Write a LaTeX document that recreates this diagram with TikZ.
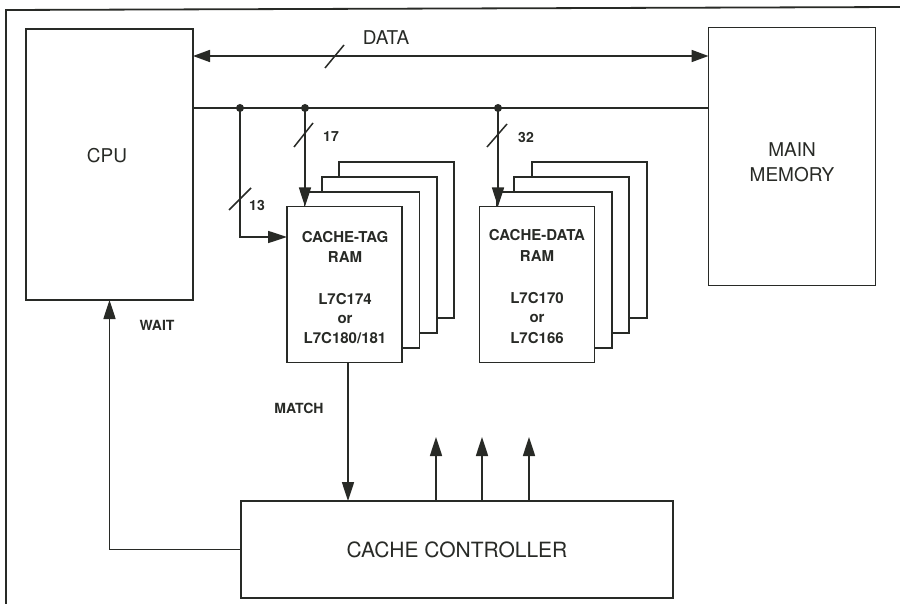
\documentclass[tikz,border=0pt]{standalone}
\usepackage{fontspec}
\setmainfont{TeX Gyre Heros}
\usetikzlibrary{arrows.meta}
\definecolor{ink}{RGB}{40,42,38}
\tikzset{
  box/.style={draw=ink, line width=1.8pt, fill=white, rectangle, inner sep=0pt, outer sep=0pt, text=ink, align=center},
  ram/.style={box, minimum width=115pt, minimum height=156pt},
  wire/.style={draw=ink, line width=1.7pt},
  arr/.style={wire, -{Triangle[length=19pt,width=12pt]}},
  darr/.style={wire, {Triangle[length=17pt,width=12pt]}-{Triangle[length=17pt,width=12pt]}},
  slash/.style={draw=ink, line width=1.5pt},
  dot/.style={circle, fill=ink, inner sep=0pt, minimum size=8pt},
  lbl/.style={text=ink, font=\fontsize{14}{16}\selectfont\bfseries, inner sep=0pt},
  ramtxt/.style={text=ink, font=\fontsize{15}{20}\selectfont\bfseries, align=center, inner sep=0pt}
}
\begin{document}
\begin{tikzpicture}[x=1pt,y=-1pt]
\useasboundingbox[fill=white] (0,0) rectangle (900,604);
% frame
\coordinate (f1) at (6,10);
\coordinate (f2) at (900,7);
\coordinate (f3) at (6,604);
\draw[ink, line width=1.8pt] (f3) -- (f1) -- (f2);
% CPU & memory
\node[box, minimum width=167pt, minimum height=271pt] (cpu) at (109.5,164.5) {};
\node[text=ink, font=\fontsize{19}{22}\selectfont, inner sep=0pt] (cpul) at (107,156) {CPU};
\node[box, minimum width=167pt, minimum height=258pt] (mem) at (792,156.5) {};
\node[text=ink, font=\fontsize{19}{25}\selectfont, align=center, inner sep=0pt] (meml) at (792,162) {MAIN\\MEMORY};
% data bus
\coordinate (dy) at (0,56);
\draw[darr] (cpu.east |- dy) -- (mem.west |- dy);
\coordinate (ds1) at (325,68);
\coordinate (ds2) at (344,45);
\draw[slash] (ds1) -- (ds2);
\node[text=ink, font=\fontsize{19}{22}\selectfont, inner sep=0pt] (datal) at (386,38) {DATA};
% address bus
\coordinate (ay) at (0,108);
\draw[wire] (cpu.east |- ay) -- (mem.west |- ay);
\node[dot] (d1) at (240,108) {};
\node[dot] (d2) at (305,108) {};
\node[dot] (d3) at (498,108) {};
% tag RAM stack
\node[ram] (t4) at (396.7,239.7) {};
\node[ram] (t3) at (379.3,254.7) {};
\node[ram] (t2) at (361.9,269.7) {};
\node[ram] (tag) at (344.5,284.5) {};
\node[ramtxt] (tagl1) at (345,237) {CACHE-TAG};
\node[ramtxt] (tagl2) at (345,257) {RAM};
\node[ramtxt] (tagl3) at (345,299) {L7C174};
\node[ramtxt] (tagl4) at (345,319) {or};
\node[ramtxt] (tagl5) at (345,338) {L7C180/181};
% data RAM stack
\node[ram] (r4) at (589.2,239.7) {};
\node[ram] (r3) at (571.8,254.7) {};
\node[ram] (r2) at (554.4,269.7) {};
\node[ram] (dram) at (537,284.5) {};
\node[ramtxt] (dl1) at (537,235) {CACHE-DATA};
\node[ramtxt] (dl2) at (537,256) {RAM};
\node[ramtxt] (dl3) at (537,298) {L7C170};
\node[ramtxt] (dl4) at (537,318) {or};
\node[ramtxt] (dl5) at (537,338) {L7C166};
% address taps
\draw[arr] (d2.center) -- (d2 |- tag.north);
\draw[slash] (294,147) -- (313,123);
\node[lbl] (l17) at (331,137) {17};
\coordinate (in13) at (tag.west |- 0,237);
\draw[arr] (d1.center) |- (in13);
\draw[slash] (229,210) -- (251,188);
\node[lbl] (l13) at (257,205) {13};
\draw[arr] (d3.center) -- (d3 |- dram.north);
\draw[slash] (487,147) -- (507,124);
\node[lbl] (l32) at (526,137) {32};
% controller
\node[box, minimum width=432pt, minimum height=97pt, font=\fontsize{21}{25}\selectfont] (ctrl) at (457,549.5) {CACHE CONTROLLER};
\coordinate (mx) at (348,0);
\draw[arr] (mx |- tag.south) -- (mx |- ctrl.north);
\node[lbl] (match) at (299,408) {MATCH};
\coordinate (u1) at (436,437);
\coordinate (u2) at (482,437);
\coordinate (u3) at (529,437);
\draw[arr] (u1 |- ctrl.north) -- (u1);
\draw[arr] (u2 |- ctrl.north) -- (u2);
\draw[arr] (u3 |- ctrl.north) -- (u3);
% wait
\draw[arr] (ctrl.west) -| (cpu.south);
\node[lbl] (wait) at (157,325) {WAIT};
\end{tikzpicture}
\end{document}
